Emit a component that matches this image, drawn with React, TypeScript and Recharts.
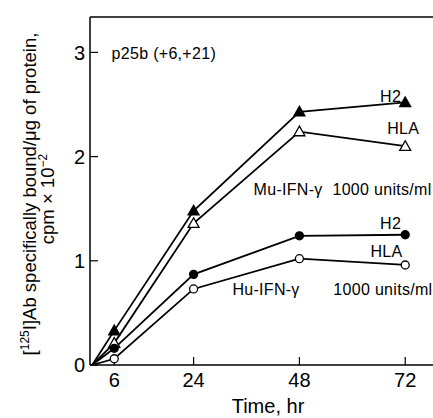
import React from 'react';
import {
  LineChart,
  Line,
  XAxis,
  YAxis,
  ReferenceLine,
  ReferenceDot,
} from 'recharts';

// time points (hr); the first one is the common starting point at the origin
const HOURS = [1, 6, 24, 48, 72];
const MU_H2 = [0, 0.33, 1.48, 2.43, 2.52];
const MU_HLA = [0, 0.21, 1.36, 2.24, 2.1];
const HU_H2 = [0, 0.16, 0.87, 1.24, 1.25];
const HU_HLA = [0, 0.06, 0.73, 1.02, 0.96];

const X_TICKS = [6, 24, 48, 72];
const Y_TICKS = [0, 1, 2, 3];
const X_DOMAIN: [number, number] = [0.5, 78.3];
const Y_MAX = 3.34;

// text notes inside the plot, placed in data units
const NOTES = [
  { x: 5.4, y: 2.94, text: 'p25b (+6,+21)' },
  { x: 66.3, y: 2.52, text: 'H2' },
  { x: 67.9, y: 2.22, text: 'HLA' },
  { x: 37.6, y: 1.63, text: 'Mu-IFN-\u03b3' },
  { x: 55.5, y: 1.63, text: '1000 units/ml' },
  { x: 66.3, y: 1.31, text: 'H2' },
  { x: 64.1, y: 1.04, text: 'HLA' },
  { x: 32.8, y: 0.67, text: 'Hu-IFN-\u03b3' },
  { x: 55.7, y: 0.67, text: '1000 units/ml' },
];

const data = HOURS.map((h, i) => ({
  hr: h,
  muH2: MU_H2[i],
  muHLA: MU_HLA[i],
  huH2: HU_H2[i],
  huHLA: HU_HLA[i],
}));

const FONT = 'Liberation Sans, Arial, Helvetica, sans-serif';

const makeDot = (shape: 'tri' | 'circle', filled: boolean) => (props: any) => {
  const { cx, cy, index } = props;
  if (index === 0 || cx == null) return <g key={`d-${index}`} />;
  const fill = filled ? '#000' : '#fff';
  if (shape === 'tri') {
    const s = 5.5;
    return (
      <polygon
        key={`d-${index}`}
        points={`${cx},${cy - s} ${cx - s},${cy + s * 0.75} ${cx + s},${cy + s * 0.75}`}
        fill={fill}
        stroke="#000"
        strokeWidth={1.3}
      />
    );
  }
  return <circle key={`d-${index}`} cx={cx} cy={cy} r={4} fill={fill} stroke="#000" strokeWidth={1.3} />;
};

const NoteText = (props: any) => {
  const { viewBox, value } = props;
  return (
    <text x={viewBox.x} y={viewBox.y} fontSize={16} letterSpacing={0.3} fontFamily={FONT} fill="#000" textAnchor="start">
      {value}
    </text>
  );
};

const YTitle = () => (
  <g fontFamily={FONT} fontSize={18.5} fill="#000">
    <text transform="rotate(-90, 36, 194)" x={36} y={194} textAnchor="middle">
      [<tspan fontSize={12} dy={-7}>125</tspan>
      <tspan dy={7}>I]Ab specifically bound/</tspan>
      <tspan>{'\u03bc'}g of protein,</tspan>
    </text>
    <text transform="rotate(-90, 54, 199)" x={54} y={199} textAnchor="middle">
      cpm {'\u00d7'} 10<tspan fontSize={12} dy={-7}>{'\u2212'}2</tspan>
    </text>
  </g>
);

const XTitle = () => (
  <text x={268} y={413} textAnchor="middle" fontFamily={FONT} fontSize={20} fill="#000">
    Time, hr
  </text>
);

export default function App() {
  return (
    <div style={{ position: 'absolute', left: 0, top: 0, width: 433, height: 418, background: '#fff' }}>
      <LineChart width={433} height={418} data={data} margin={{ top: 17, right: 0, bottom: 0, left: 0 }}>
        <XAxis
          dataKey="hr"
          type="number"
          domain={X_DOMAIN}
          ticks={X_TICKS}
          allowDataOverflow
          height={53}
          tickSize={-8}
          tickMargin={16}
          axisLine={{ stroke: '#000', strokeWidth: 1.5 }}
          tickLine={{ stroke: '#000', strokeWidth: 1.2 }}
          tick={{ fill: '#000', fontSize: 20, fontFamily: FONT }}
          label={<XTitle />}
        />
        <YAxis
          type="number"
          domain={[0, Y_MAX]}
          ticks={Y_TICKS}
          allowDataOverflow
          width={90}
          tickSize={-8}
          tickMargin={13}
          axisLine={{ stroke: '#000', strokeWidth: 1.5 }}
          tickLine={{ stroke: '#000', strokeWidth: 1.2 }}
          tick={{ fill: '#000', fontSize: 20, fontFamily: FONT }}
          label={<YTitle />}
        />
        <ReferenceLine y={Y_MAX} stroke="#000" strokeWidth={1.5} />
        <Line dataKey="muH2" stroke="#000" strokeWidth={1.8} dot={makeDot('tri', true)} isAnimationActive={false} />
        <Line dataKey="muHLA" stroke="#000" strokeWidth={1.8} dot={makeDot('tri', false)} isAnimationActive={false} />
        <Line dataKey="huH2" stroke="#000" strokeWidth={1.8} dot={makeDot('circle', true)} isAnimationActive={false} />
        <Line dataKey="huHLA" stroke="#000" strokeWidth={1.8} dot={makeDot('circle', false)} isAnimationActive={false} />
        {NOTES.map((n, i) => (
          <ReferenceDot
            key={i}
            x={n.x}
            y={n.y}
            r={0}
            fill="none"
            stroke="none"
            label={<NoteText value={n.text} />}
          />
        ))}
      </LineChart>
    </div>
  );
}
